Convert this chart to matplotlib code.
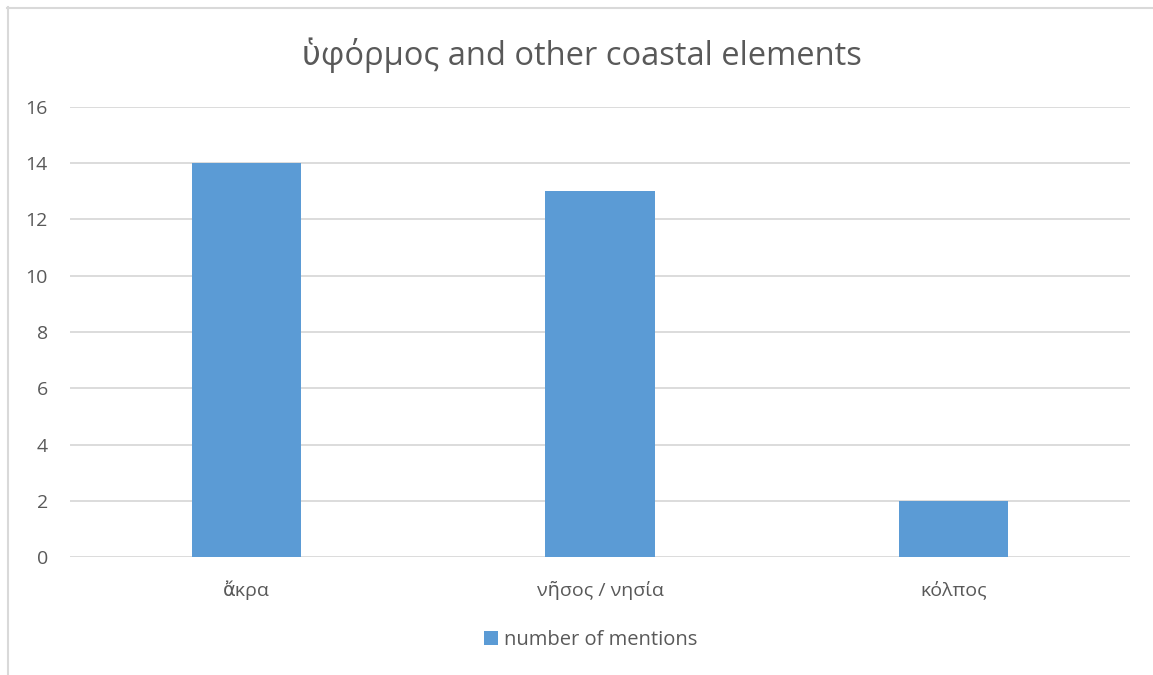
import matplotlib

matplotlib.use("Agg")
import matplotlib.pyplot as plt
import numpy as np

categories = ["ἄκρα", "νῆσος / νησία", "κόλπος"]
mentions = [14, 13, 2]
series_name = "number of mentions"
title = "ὑφόρμος and other coastal elements"
y_ticks = [0, 2, 4, 6, 8, 10, 12, 14, 16]

BAR = "#5B9BD5"
GRID = "#D9D9D9"
TXT = "#595959"
FONT = ["Open Sans", "DejaVu Sans"]

plt.rcParams["font.family"] = FONT

fig = plt.figure(figsize=(11.53, 6.75), dpi=100)
ax = fig.add_axes([0.0607, 0.1748, 0.9193, 0.6667])

x = np.arange(len(categories))
ax.bar(x, mentions, 0.31, color=BAR, label=series_name, zorder=3)

ax.set_xlim(-0.5, len(categories) - 0.5)
ax.set_ylim(0, 16)
ax.set_yticks(y_ticks)
ax.set_xticks(x)
ax.set_xticklabels(categories)
ax.tick_params(length=0, colors=TXT, labelsize=14)
ax.tick_params(axis="y", pad=16)
ax.tick_params(axis="x", pad=17)
ax.grid(axis="y", color=GRID, linewidth=1.3, zorder=0)
for s in ax.spines.values():
    s.set_visible(False)

fig.text(0.505, 0.918, title, ha="center", va="center", fontsize=23.5, color=TXT)

leg = fig.legend(loc="center", bbox_to_anchor=(0.512, 0.052), frameon=False,
                 fontsize=14.5, handlelength=0.7, handleheight=0.7,
                 handletextpad=0.3)
for t in leg.get_texts():
    t.set_color(TXT)

# chart frame (top and left edges)
fig.add_artist(plt.Line2D([7 / 1153, 1], [1 - 7.5 / 675, 1 - 7.5 / 675],
                          transform=fig.transFigure, color=GRID, lw=1.5))
fig.add_artist(plt.Line2D([7.5 / 1153, 7.5 / 1153], [0, 1 - 7 / 675],
                          transform=fig.transFigure, color=GRID, lw=1.5))

fig.savefig("out.png", dpi=100, facecolor="white")
